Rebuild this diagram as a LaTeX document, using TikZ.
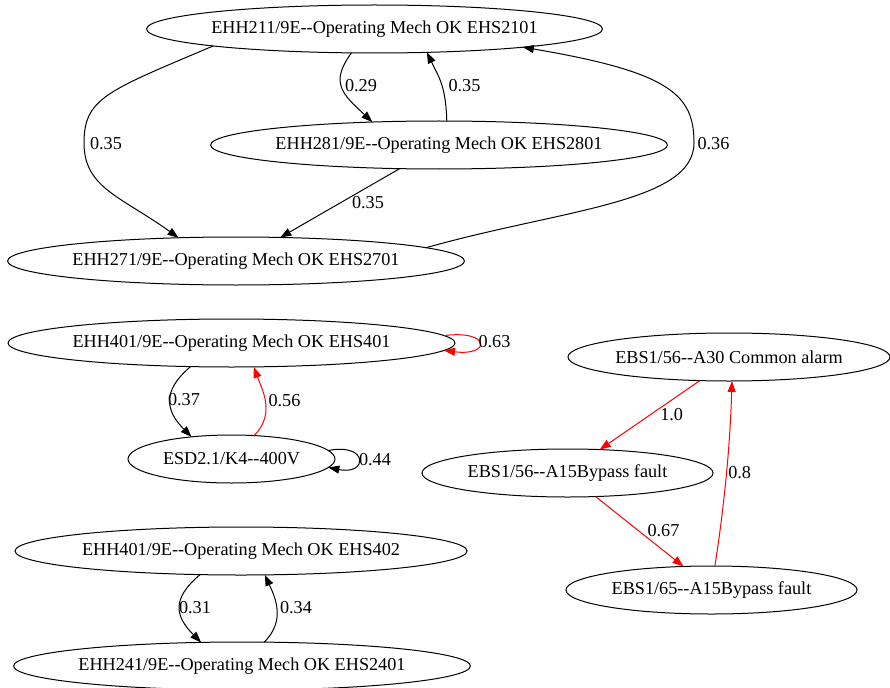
\documentclass[tikz,border=0pt]{standalone}
\usepackage{fontspec}
\setmainfont{Liberation Serif}
\usetikzlibrary{arrows.meta,shapes.geometric}

\begin{document}
\begin{tikzpicture}[
  x=1pt, y=-1pt,
  state/.style={draw, ellipse, line width=1pt, inner ysep=0pt, inner xsep=-2pt, outer sep=0pt, minimum height=48pt, font=\fontsize{18.2}{21}\selectfont},
  weight/.style={inner sep=0pt, font=\fontsize{18.2}{21}\selectfont},
  arrow/.style={-{Triangle[length=11pt, width=8pt]}, line width=1pt},
  hot/.style={arrow, red}
]
\useasboundingbox (0,0) rectangle (890,687);

% operating mechanism group
\node[state, minimum width=456pt] (ehs2101) at (374.5,29) {EHH211/9E-{}-Operating Mech OK EHS2101};
\node[state, minimum width=456pt] (ehs2801) at (439,145) {EHH281/9E-{}-Operating Mech OK EHS2801};
\node[state, minimum width=456pt] (ehs2701) at (236,261) {EHH271/9E-{}-Operating Mech OK EHS2701};

\draw[arrow] (ehs2101.226) .. controls +(-22,30) and +(-30,-28) .. (ehs2801.161);
\draw[arrow] (ehs2801.72) .. controls +(-1,-35) and +(12,25) .. (ehs2101.336);
\draw[arrow] (ehs2101.186.5) .. controls +(-106,45) and +(0,-45) .. (84,143)
  .. controls +(0,45) and +(-57,-41) .. (ehs2701.158);
\draw[arrow] (ehs2801.211) -- (ehs2701.28);
\draw[arrow] (ehs2701.4) .. controls +(134,-38) and +(0,60) .. (694,143)
  .. controls +(0,-48) and +(148,25) .. (ehs2101.353);

\node[weight] (w29) at (361,86) {0.29};
\node[weight] (w35a) at (464.5,86) {0.35};
\node[weight] (w35b) at (106,144) {0.35};
\node[weight] (w35c) at (368,203) {0.35};
\node[weight] (w36) at (713.5,144) {0.36};

% EHS401 and the 400V supply
\node[state, minimum width=447pt] (ehs401) at (231.5,343) {EHH401/9E-{}-Operating Mech OK EHS401};
\node[state, minimum width=207pt] (esd) at (231.5,459) {ESD2.1/K4-{}-400V};

\draw[arrow] (ehs401.210) .. controls +(-30,25) and +(-25,-25) .. (esd.151);
\draw[hot] (esd.46) .. controls +(22,-22) and +(8,22) .. (ehs401.313);
\draw[hot] (ehs401.2) .. controls +(47,-6) and +(47,6) .. (ehs401.358);
\draw[arrow] (esd.5) .. controls +(40,-8) and +(40,8) .. (esd.355);

\node[weight] (w37) at (184,400) {0.37};
\node[weight] (w56) at (284.5,401) {0.56};
\node[weight] (w63) at (494.5,342) {0.63};
\node[weight] (w44) at (375,459.5) {0.44};

% bypass faults
\node[state, minimum width=322pt] (alarm) at (729,357) {EBS1/56-{}-A30 Common alarm};
\node[state, minimum width=291pt] (byp56) at (567.5,473) {EBS1/56-{}-A15Bypass fault};
\node[state, minimum width=291pt] (byp65) at (711.5,590) {EBS1/65-{}-A15Bypass fault};

\foreach \i/\j in {alarm.219/byp56.36, byp56.320/byp65.140} {
  \draw[hot] (\i) -- (\j);
}
\draw[hot] (byp65.82) .. controls +(9.7,-61.7) and +(-1.7,61.7) .. (alarm.277);

\node[weight] (w10) at (671.7,415) {1.0};
\node[weight] (w67) at (663.5,530.7) {0.67};
\node[weight] (w8) at (739.7,473) {0.8};

% EHS402 pair
\node[state, minimum width=452pt] (ehs402) at (241,551) {EHH401/9E-{}-Operating Mech OK EHS402};
\node[state, minimum width=456pt] (ehs2401) at (242,666) {EHH241/9E-{}-Operating Mech OK EHS2401};

\draw[arrow] (ehs402.210) .. controls +(-30,25) and +(-25,-25) .. (ehs2401.150);
\draw[arrow] (ehs2401.47) .. controls +(22,-22) and +(10,22) .. (ehs402.315);

\node[weight] (w31) at (195,608) {0.31};
\node[weight] (w34) at (296,608) {0.34};
\end{tikzpicture}
\end{document}
